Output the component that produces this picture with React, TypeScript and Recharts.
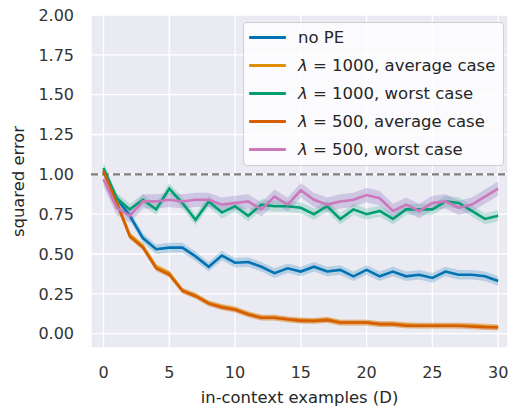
import { Area, CartesianGrid, ComposedChart, Legend, Line, ReferenceLine, XAxis, YAxis } from "recharts";

const steps = [0, 1, 2, 3, 4, 5, 6, 7, 8, 9, 10, 11, 12, 13, 14, 15, 16, 17, 18, 19, 20, 21, 22, 23, 24, 25, 26, 27, 28, 29, 30];
const noPE = [1.02, 0.85, 0.74, 0.6, 0.53, 0.54, 0.54, 0.485, 0.42, 0.49, 0.445, 0.45, 0.42, 0.38, 0.41, 0.39, 0.42, 0.39, 0.4, 0.36, 0.4, 0.36, 0.39, 0.36, 0.37, 0.35, 0.39, 0.37, 0.37, 0.36, 0.33];
const avg1000 = [1.03, 0.83, 0.62, 0.55, 0.42, 0.38, 0.27, 0.24, 0.19, 0.17, 0.155, 0.125, 0.1, 0.1, 0.09, 0.085, 0.08, 0.09, 0.07, 0.07, 0.07, 0.06, 0.06, 0.055, 0.05, 0.05, 0.05, 0.05, 0.05, 0.045, 0.04];
const worst1000 = [1.04, 0.85, 0.78, 0.84, 0.78, 0.91, 0.82, 0.715, 0.83, 0.76, 0.8, 0.74, 0.81, 0.8, 0.8, 0.79, 0.75, 0.8, 0.72, 0.78, 0.75, 0.77, 0.72, 0.78, 0.78, 0.78, 0.83, 0.82, 0.77, 0.72, 0.74];
const avg500 = [1.02, 0.82, 0.61, 0.54, 0.41, 0.37, 0.27, 0.235, 0.19, 0.165, 0.15, 0.12, 0.1, 0.1, 0.09, 0.08, 0.08, 0.085, 0.07, 0.07, 0.07, 0.06, 0.06, 0.05, 0.05, 0.05, 0.05, 0.05, 0.045, 0.04, 0.04];
const worst500 = [0.97, 0.79, 0.74, 0.83, 0.83, 0.84, 0.83, 0.84, 0.84, 0.81, 0.82, 0.83, 0.78, 0.86, 0.81, 0.9, 0.84, 0.81, 0.83, 0.84, 0.87, 0.85, 0.77, 0.81, 0.77, 0.82, 0.83, 0.79, 0.81, 0.86, 0.91];

const xTicks = [0, 5, 10, 15, 20, 25, 30];
const yTicks = [0, 0.25, 0.5, 0.75, 1, 1.25, 1.5, 1.75, 2];

// estimated half-width of each shaded band
const spread = { noPE: 0.03, avg: 0.018, worst1000: 0.035, worst500: 0.045 };

const series = [
  { key: "noPE", values: noPE, color: "#0173B2", band: "#0173B2", bandOpacity: 0.22, spread: spread.noPE, name: "no PE" },
  { key: "avg1000", values: avg1000, color: "#DE8F05", band: "#DE8F05", bandOpacity: 0.3, spread: spread.avg, lambda: "1000", label: ", average case" },
  { key: "worst1000", values: worst1000, color: "#029E73", band: "#029E73", bandOpacity: 0.2, spread: spread.worst1000, lambda: "1000", label: ", worst case" },
  { key: "avg500", values: avg500, color: "#D55E00", band: "#D55E00", bandOpacity: 0.3, spread: spread.avg, lambda: "500", label: ", average case" },
  { key: "worst500", values: worst500, color: "#CC78BC", band: "#9A88C8", bandOpacity: 0.35, spread: spread.worst500, lambda: "500", label: ", worst case" },
];

const rows = steps.map((x, i) => {
  const row: Record<string, any> = { x };
  series.forEach((s) => {
    row[s.key] = s.values[i];
    row[s.key + "Band"] = [s.values[i] - s.spread, s.values[i] + s.spread];
  });
  return row;
});

const font = "'DejaVu Sans', sans-serif";

function LegendBox() {
  return (
    <div
      style={{
        background: "rgba(255,255,255,0.8)",
        border: "1px solid #cfcfcf",
        borderRadius: 4,
        padding: "0 0 2px 0",
        fontFamily: font,
        fontSize: 16.5,
        color: "#262626",
        boxSizing: "border-box",
        width: 261,
      }}
    >
      {series.map((s) => (
        <div key={s.key} style={{ display: "flex", alignItems: "center", height: 28 }}>
          <div style={{ width: 37, height: 3, background: s.color, marginLeft: 5, marginRight: 12, borderRadius: 1 }} />
          <span style={{ whiteSpace: "nowrap" }}>
            {s.name ? s.name : (
              <>
                <i>λ</i> = {s.lambda}
                {s.label}
              </>
            )}
          </span>
        </div>
      ))}
    </div>
  );
}

export default function App() {
  return (
    <div style={{ position: "absolute", left: 0, top: 0, width: 508, height: 411 }}>
      <ComposedChart width={508} height={411} data={rows} margin={{ top: 15, right: 0, bottom: 0, left: 0 }}>
        <CartesianGrid fill="#EAEAF2" stroke="#ffffff" strokeWidth={1.3} />
        <XAxis
          type="number"
          dataKey="x"
          domain={[-0.95, 30.75]}
          ticks={xTicks}
          allowDataOverflow
          height={63}
          tickLine={false}
          axisLine={false}
          tickSize={6}
          tickMargin={13}
          tick={{ fill: "#333333", fontSize: 16, fontFamily: font }}
          label={{ value: "in-context examples (D)", position: "insideBottom", offset: 8, fill: "#262626", fontSize: 16.4, fontFamily: font }}
        />
        <YAxis
          type="number"
          domain={[-0.09, 2.0]}
          ticks={yTicks}
          allowDataOverflow
          width={91}
          tickLine={false}
          axisLine={false}
          tickSize={6}
          tickMargin={11}
          tickFormatter={(v: number) => v.toFixed(2)}
          tick={{ fill: "#333333", fontSize: 16, fontFamily: font }}
          label={{ value: "squared error", angle: -90, position: "insideLeft", offset: 18, style: { textAnchor: "middle" }, fill: "#262626", fontSize: 16.4, fontFamily: font }}
        />
        <ReferenceLine y={1} stroke="#808080" strokeWidth={2.2} strokeDasharray="7 4" />
        {series.map((s) => (
          <Area
            key={s.key + "Band"}
            type="linear"
            dataKey={s.key + "Band"}
            stroke="none"
            fill={s.band}
            fillOpacity={s.bandOpacity}
            isAnimationActive={false}
            legendType="none"
          />
        ))}
        {series.map((s) => (
          <Line
            key={s.key}
            type="linear"
            dataKey={s.key}
            stroke={s.color}
            strokeWidth={2.6}
            dot={false}
            activeDot={false}
            isAnimationActive={false}
          />
        ))}
        <Legend
          layout="horizontal"
          verticalAlign="middle"
          align="center"
          content={() => <LegendBox />}
          wrapperStyle={{ position: "absolute", top: 22, left: 243, width: 261, height: "auto" }}
        />
      </ComposedChart>
    </div>
  );
}
